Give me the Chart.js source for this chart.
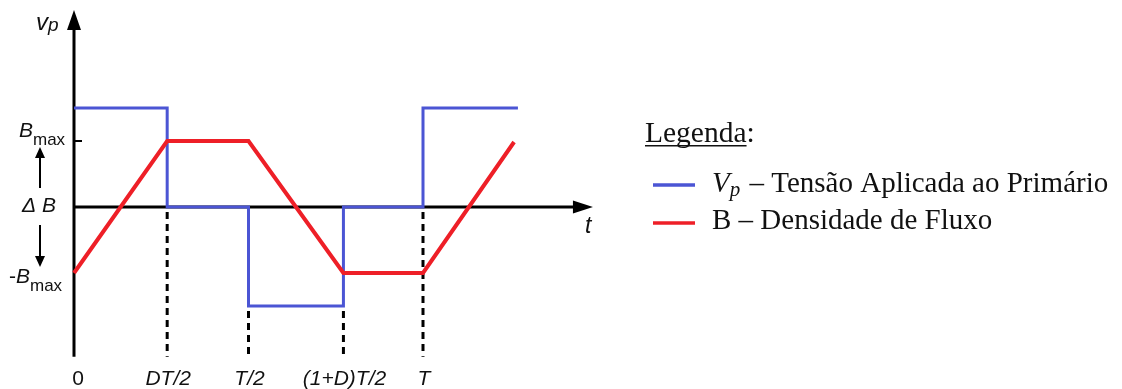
<!DOCTYPE html>
<html>
<head>
<meta charset="utf-8">
<script src="https://cdn.jsdelivr.net/npm/chart.js@4"></script>
<style>
  html, body { margin: 0; padding: 0; background: #fff; overflow: hidden; }
  canvas { display: block; }
</style>
</head>
<body>
<canvas id="c" width="1122" height="389"></canvas>
<script>
// Time marks, as fractions of the switching period T
const tickTimes  = [0, 0.267, 0.5, 0.772, 1];
const tickLabels = ['0', 'DT/2', 'T/2', '(1+D)T/2', 'T'];

// Primary voltage v_p (vertical unit: B_max = 1)
const vpTimes  = [0, 0.267, 0.267, 0.5, 0.5, 0.772, 0.772, 1, 1, 1.272];
const vpValues = [1.5, 1.5, 0, 0, -1.5, -1.5, 0, 0, 1.5, 1.5];

// Flux density B
const bTimes  = [0, 0.267, 0.5, 0.772, 1, 1.261];
const bValues = [-1, 1, 1, -1, -1, 0.985];

// Level each dashed drop line starts from (ticks 1..4)
const guideTops = [0, -1.5, -1.5, 0];

// Axis extents
const X_AXIS_END = 1.487;
const Y_AXIS_TOP = 2.985;
const Y_AXIS_BOTTOM = -2.27;

const BLUE = '#4b55d4';
const RED = '#ee1f27';
const INK = '#111111';

const toPoints = (xs, ys) => xs.map((x, i) => ({ x, y: ys[i] }));

function drawRuns(ctx, runs, x, baseline, align) {
  let total = 0;
  runs.forEach(r => { ctx.font = r.font; r.w = ctx.measureText(r.text).width; total += r.w + (r.gap || 0); });
  let cx = align === 'center' ? x - total / 2 : align === 'right' ? x - total : x;
  runs.forEach(r => {
    ctx.font = r.font;
    ctx.fillStyle = r.color || INK;
    ctx.textAlign = 'left';
    ctx.textBaseline = 'alphabetic';
    cx += (r.gap || 0);
    ctx.fillText(r.text, cx, baseline + (r.dy || 0));
    cx += r.w;
  });
  return cx;
}

function arrowHead(ctx, tipX, tipY, dir, len, half) {
  ctx.beginPath();
  if (dir === 'up') {
    ctx.moveTo(tipX, tipY); ctx.lineTo(tipX - half, tipY + len); ctx.lineTo(tipX + half, tipY + len);
  } else if (dir === 'down') {
    ctx.moveTo(tipX, tipY); ctx.lineTo(tipX - half, tipY - len); ctx.lineTo(tipX + half, tipY - len);
  } else {
    ctx.moveTo(tipX, tipY); ctx.lineTo(tipX - len, tipY - half); ctx.lineTo(tipX - len, tipY + half);
  }
  ctx.closePath();
  ctx.fill();
}

const axesPlugin = {
  id: 'waveAxes',
  beforeDatasetsDraw(chart) {
    const ctx = chart.ctx;
    const xs = chart.scales.x, ys = chart.scales.y;
    const x0 = xs.getPixelForValue(0), y0 = ys.getPixelForValue(0);
    ctx.save();
    ctx.strokeStyle = '#000';
    ctx.fillStyle = '#000';
    ctx.lineWidth = 3;
    // vertical axis
    const yTop = ys.getPixelForValue(Y_AXIS_TOP);
    ctx.beginPath();
    ctx.moveTo(x0, ys.getPixelForValue(Y_AXIS_BOTTOM));
    ctx.lineTo(x0, yTop + 16);
    ctx.stroke();
    arrowHead(ctx, x0, yTop, 'up', 20, 7);
    // horizontal axis
    const xEnd = xs.getPixelForValue(X_AXIS_END);
    ctx.beginPath();
    ctx.moveTo(x0, y0);
    ctx.lineTo(xEnd - 16, y0);
    ctx.stroke();
    arrowHead(ctx, xEnd, y0, 'right', 20, 6.5);
    // B_max tick
    ctx.lineWidth = 2;
    const yb = ys.getPixelForValue(1);
    ctx.beginPath();
    ctx.moveTo(x0, yb); ctx.lineTo(x0 + 8, yb); ctx.stroke();
    // dashed drop lines
    ctx.lineWidth = 3;
    ctx.setLineDash([7, 5]);
    const yBottom = ys.getPixelForValue(Y_AXIS_BOTTOM);
    guideTops.forEach((top, i) => {
      const px = xs.getPixelForValue(tickTimes[i + 1]);
      ctx.beginPath();
      ctx.moveTo(px, ys.getPixelForValue(top) + 5);
      ctx.lineTo(px, yBottom);
      ctx.stroke();
    });
    ctx.restore();
  },
  afterDraw(chart) {
    const ctx = chart.ctx;
    const xs = chart.scales.x, ys = chart.scales.y;
    ctx.save();
    const sansI = s => `italic ${s}px "Liberation Sans", Arial, sans-serif`;
    const sans = s => `${s}px "Liberation Sans", Arial, sans-serif`;

    // vertical axis title v_p
    drawRuns(ctx, [
      { text: 'v', font: sansI(24) },
      { text: 'p', font: sansI(19), dy: 1, gap: 0 }
    ], 36, 30, 'left');

    // level labels
    const yMax = ys.getPixelForValue(1), yMin = ys.getPixelForValue(-1), yZero = ys.getPixelForValue(0);
    drawRuns(ctx, [
      { text: 'B', font: sansI(21) },
      { text: 'max', font: sans(17), dy: 8 }
    ], 19, yMax - 4, 'left');
    drawRuns(ctx, [{ text: '\u0394 B', font: sansI(21) }], 22, yZero + 5, 'left');
    drawRuns(ctx, [
      { text: '-', font: sans(21) },
      { text: 'B', font: sansI(21) },
      { text: 'max', font: sans(17), dy: 8 }
    ], 9, yMin + 10, 'left');

    // small arrows marking the swing ΔB
    ctx.strokeStyle = '#000'; ctx.fillStyle = '#000'; ctx.lineWidth = 2;
    ctx.beginPath(); ctx.moveTo(40, yZero - 19); ctx.lineTo(40, yMax + 14); ctx.stroke();
    arrowHead(ctx, 40, yMax + 6, 'up', 11, 5);
    ctx.beginPath(); ctx.moveTo(40, yZero + 18); ctx.lineTo(40, yMin - 14); ctx.stroke();
    arrowHead(ctx, 40, yMin - 6, 'down', 11, 5);

    // time labels
    tickTimes.forEach((t, i) => {
      const px = xs.getPixelForValue(t);
      const f = i === 0 ? sans(21) : sansI(21);
      drawRuns(ctx, [{ text: tickLabels[i], font: f }], px + (i === 0 ? 4 : 1), 385, 'center');
    });
    // horizontal axis title
    drawRuns(ctx, [{ text: 't', font: sansI(23) }], xs.getPixelForValue(X_AXIS_END) - 8, 233, 'left');

    // legend
    const serif = s => `${s}px "Liberation Serif", "Times New Roman", serif`;
    const serifI = s => `italic ${s}px "Liberation Serif", "Times New Roman", serif`;
    const endL = drawRuns(ctx, [{ text: 'Legenda', font: serif(29.5) }], 645, 142, 'left');
    ctx.fillStyle = INK;
    ctx.fillRect(645, 145, endL - 645, 1.5);
    drawRuns(ctx, [{ text: ':', font: serif(29.5) }], endL, 142, 'left');

    const ds = chart.data.datasets;
    const rows = [
      { y: 185, base: 192, color: ds[0].borderColor, runs: [
        { text: 'V', font: serifI(29) },
        { text: 'p', font: serifI(21), dy: 4 },
        { text: ' \u2013 Tens\u00e3o Aplicada ao Prim\u00e1rio', font: serif(29), gap: 2 }
      ] },
      { y: 223, base: 229, color: ds[1].borderColor, runs: [
        { text: 'B \u2013 Densidade de Fluxo', font: serif(29) }
      ] }
    ];
    rows.forEach(r => {
      ctx.strokeStyle = r.color; ctx.lineWidth = 3.5;
      ctx.beginPath(); ctx.moveTo(653, r.y); ctx.lineTo(695, r.y); ctx.stroke();
      drawRuns(ctx, r.runs, 712, r.base, 'left');
    });
    ctx.restore();
  }
};

new Chart(document.getElementById('c'), {
  type: 'line',
  data: {
    datasets: [
      {
        label: 'Vp \u2013 Tens\u00e3o Aplicada ao Prim\u00e1rio',
        data: toPoints(vpTimes, vpValues),
        borderColor: BLUE, borderWidth: 3,
        pointRadius: 0, tension: 0, fill: false, clip: false,
        borderJoinStyle: 'miter', borderCapStyle: 'butt', order: 2
      },
      {
        label: 'B \u2013 Densidade de Fluxo',
        data: toPoints(bTimes, bValues),
        borderColor: RED, borderWidth: 4,
        pointRadius: 0, tension: 0, fill: false, clip: false,
        borderJoinStyle: 'miter', borderCapStyle: 'butt', order: 1
      }
    ]
  },
  options: {
    responsive: false,
    animation: false,
    devicePixelRatio: 1,
    events: [],
    layout: { padding: { left: 4.2, right: 489.6, top: 2.4, bottom: 3.8 } },
    scales: {
      x: { type: 'linear', min: -0.2, max: 1.6, display: false },
      y: { type: 'linear', min: -2.7, max: 3.1, display: false }
    },
    plugins: { legend: { display: false }, tooltip: { enabled: false } }
  },
  plugins: [axesPlugin]
});
</script>
</body>
</html>
